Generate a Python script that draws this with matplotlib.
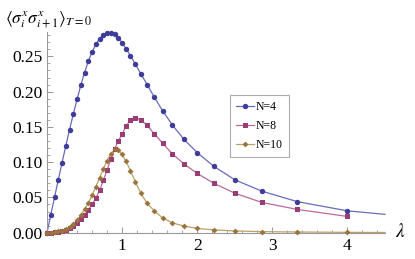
import matplotlib
matplotlib.use('Agg')
import matplotlib.pyplot as plt
from matplotlib.ticker import MultipleLocator, FixedLocator
from matplotlib.lines import Line2D

# ---- data ----
lam = [0.0, 0.05, 0.1, 0.15, 0.2, 0.25, 0.3, 0.35, 0.4, 0.45, 0.5, 0.55, 0.6, 0.65,
       0.7, 0.75, 0.8, 0.85, 0.9, 0.95, 1.0, 1.053, 1.111, 1.176, 1.25, 1.333,
       1.429, 1.538, 1.667, 1.818, 2.0, 2.222, 2.5, 2.857, 3.333, 4.0]

n4 = [0, 0.025, 0.050, 0.075, 0.099, 0.123, 0.146, 0.168, 0.189, 0.209, 0.227,
      0.243, 0.256, 0.267, 0.275, 0.280, 0.283, 0.283, 0.281, 0.276, 0.269,
      0.261, 0.251, 0.239, 0.225, 0.210, 0.192, 0.173, 0.153, 0.133, 0.1135,
      0.094, 0.075, 0.059, 0.044, 0.031]

n8 = [0, 0.0001, 0.0004, 0.001, 0.002, 0.0035, 0.006, 0.0095, 0.014, 0.019,
      0.025, 0.032, 0.040, 0.049, 0.060, 0.074, 0.089, 0.104, 0.119, 0.130,
      0.140, 0.151, 0.160, 0.163, 0.160, 0.152, 0.140, 0.127, 0.112, 0.098,
      0.084, 0.070, 0.056, 0.043, 0.033, 0.023]

n10 = [0, 0.0002, 0.0008, 0.002, 0.003, 0.005, 0.008, 0.012, 0.018, 0.025, 0.033,
       0.042, 0.053, 0.065, 0.078, 0.090, 0.102, 0.112, 0.118, 0.117, 0.111,
       0.101, 0.088, 0.072, 0.056, 0.0415, 0.031, 0.021, 0.014, 0.0095, 0.006,
       0.004, 0.0025, 0.0015, 0.001, 0.0005]

# curve continuation beyond the last sample (line only)
tail_lam = [4.5]
n4_tail = [0.026]
n10_tail = [0.0003]

labels = ['N=4', 'N=8', 'N=10']
colors = ['#3d3d99', '#993d74', '#99743d']
line_colors = ['#6a6abb', '#bb6a9a', '#bba06a']
markers = ['o', 's', 'D']
msizes = [3.9, 3.6, 3.0]

xticks = [1, 2, 3, 4]
yticks = [0.00, 0.05, 0.10, 0.15, 0.20, 0.25]

# ---- figure ----
plt.rcParams['font.family'] = ['Liberation Serif', 'DejaVu Serif']
plt.rcParams['mathtext.fontset'] = 'stix'

fig = plt.figure(figsize=(4.15, 2.59), dpi=100)
ax = fig.add_axes([47/415, 1 - 232.7/259, (385 - 47)/415, (232.7 - 32)/259])

series = [(n4, n4_tail), (n8, []), (n10, n10_tail)]
for (vals, tail), lab, c, lc, m, ms in zip(series, labels, colors, line_colors, markers, msizes):
    xs = lam + (tail_lam if tail else [])
    ys = vals + tail
    ax.plot(xs, ys, '-', color=lc, lw=0.9, clip_on=False, zorder=2)
    ax.plot(lam, vals, linestyle='none', marker=m, ms=ms, color=c,
            markeredgewidth=0, clip_on=False, zorder=3)

handles = [Line2D([], [], color=lc, lw=0.9, marker=m, ms=ms, markerfacecolor=c,
                  markeredgewidth=0)
           for lc, m, ms, c in zip(line_colors, markers, msizes, colors)]
leg = fig.legend(handles, labels, loc='upper left',
                 bbox_to_anchor=(230/415, 1 - 95/259), fontsize=8.5,
                 frameon=True, fancybox=False, handlelength=1.5,
                 handletextpad=0.2, labelspacing=0.6, borderpad=0.5,
                 borderaxespad=0)
leg.get_frame().set_edgecolor('#999999')
leg.get_frame().set_linewidth(0.8)

ax.set_xlim(0, 4.5)
ax.set_ylim(0, 0.2845)
for s in ['top', 'right']:
    ax.spines[s].set_visible(False)
for s in ['left', 'bottom']:
    ax.spines[s].set_color('#999999')
    ax.spines[s].set_linewidth(0.8)

ax.xaxis.set_major_locator(FixedLocator(xticks))
ax.xaxis.set_minor_locator(MultipleLocator(0.2))
ax.yaxis.set_major_locator(FixedLocator(yticks))
ax.yaxis.set_minor_locator(MultipleLocator(0.01))
ax.set_yticklabels(['%.2f' % v for v in yticks])
ax.set_xticklabels([str(v) for v in xticks])
ax.tick_params(which='major', direction='in', length=4, width=0.7,
               color='#999999', labelsize=12.5, pad=3)
ax.tick_params(which='minor', direction='in', length=2, width=0.6,
               color='#999999')
ax.tick_params(axis='x', which='major', pad=4)

fig.text(0.012, 0.965, r'$\langle\sigma_i^x\sigma_{i+1}^x\rangle_{T=0}$',
         fontsize=12.5, va='top', ha='left')
fig.text(400/415, 1 - 232/259, r'$\lambda$', fontsize=14, ha='center', va='center')

fig.savefig('out.png', dpi=100)
